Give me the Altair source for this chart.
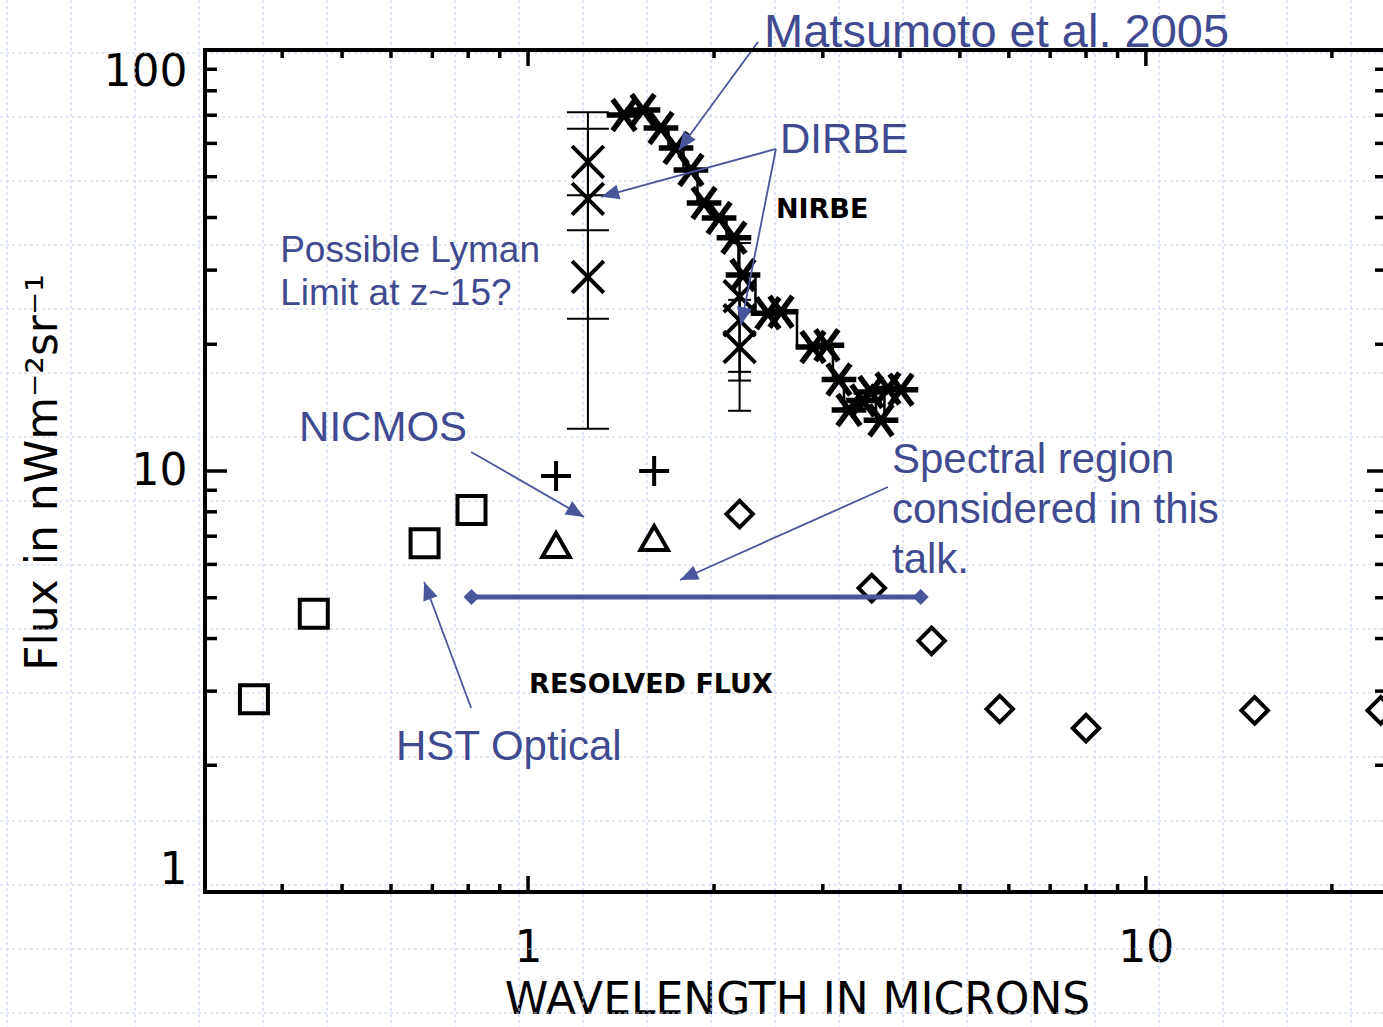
import math
import altair as alt
import pandas as pd

# ---------------- data ----------------
hst_x = [0.36, 0.45, 0.68, 0.81]
hst_y = [2.87, 4.58, 6.74, 8.08]

nic_plus_x = [1.11, 1.60]
nic_plus_y = [9.73, 10.0]
nic_tri_x = [1.11, 1.60]
nic_tri_y = [6.67, 6.93]

res_x = [2.2, 3.6, 4.5, 5.8, 8.0, 15.0, 24.0]
res_y = [7.9, 5.27, 3.95, 2.72, 2.45, 2.70, 2.70]

mat_x = [1.43, 1.535, 1.641, 1.736, 1.835, 1.927, 2.038, 2.154, 2.228, 2.445,
         2.567, 2.892, 3.046, 3.186, 3.307, 3.484, 3.589, 3.726, 3.824, 4.014]
mat_y = [70.1, 72.0, 65.3, 58.5, 51.9, 43.3, 39.9, 35.8, 29.2, 23.7,
         23.9, 19.7, 19.9, 16.5, 13.96, 14.7, 15.4, 13.2, 15.7, 15.6]

dirbe_x = [1.25, 1.25, 1.25, 2.2, 2.2, 2.2]
dirbe_y = [54.2, 44.3, 28.9, 26.0, 22.8, 19.7]
dirbe_lo = [37.3, 23.0, 12.6, 17.2, 16.4, 13.9]
dirbe_hi = [71.1, 65.0, 45.2, 34.8, 29.2, 25.5]
dirbe_cap = [42, 42, 42, 23, 23, 23]

band_x = [0.81, 4.32]
band_y = [5.02, 5.02]

x_major = [1, 10]
x_minor = [0.4, 0.5, 0.6, 0.7, 0.8, 0.9, 2, 3, 4, 5, 6, 7, 8, 9, 20]
y_major = [1, 10, 100]
y_minor = [2, 3, 4, 5, 6, 7, 8, 9, 20, 30, 40, 50, 60, 70, 80, 90]

# annotation arrows: tail -> tip (data coordinates)
arr_x = [2.356, 2.519, 2.519, 0.809, 3.824, 0.809]
arr_y = [104.5, 58.2, 58.2, 11.1, 9.16, 2.735]
arr_x2 = [1.755, 1.313, 2.211, 1.232, 1.762, 0.679]
arr_y2 = [57.9, 44.8, 22.2, 7.78, 5.51, 5.45]

# texts (left aligned, alphabetic baseline, data coordinates)
blue_txt = ["DIRBE", "NICMOS", "Spectral region", "considered in this", "talk.", "HST Optical"]
blue_tx = [2.557, 0.426, 3.882, 3.882, 3.882, 0.6114]
blue_ty = [56.9, 11.8, 9.89, 7.52, 5.72, 2.058]
lyman_txt = ["Possible Lyman", "Limit at z~15?"]
lyman_tx = [0.397, 0.397]
lyman_ty = [31.4, 24.8]
mat_txt = ["Matsumoto et al. 2005"]
mat_tx = [2.41]
mat_ty = [101.6]
blk_txt = ["NIRBE", "RESOLVED FLUX"]
blk_tx = [2.519, 1.004]
blk_ty = [39.9, 2.97]

# ---------------- layout / style ----------------
W, H = 1178, 842
XD = [0.3, 24.2]
YD = [1, 100]
BLUE = "#3F4A91"
LINEBLUE = "#4A569C"
GRID = "#C8D3F3"

xs = alt.Scale(type="log", domain=XD, nice=False)
ys = alt.Scale(type="log", domain=YD, nice=False)
xaxis = alt.Axis(values=x_major, format=".0f", title="WAVELENGTH IN MICRONS",
                 labelPadding=34, titleX=592, titleY=121, titleBaseline="alphabetic",
                 titleAlign="center")
yaxis = alt.Axis(values=y_major, format=".0f", title="Flux in nWm⁻²sr⁻¹",
                 labelPadding=18, labelFlush=True, titleAngle=270, titleX=-149,
                 titleY=422, titleAlign="center", titleBaseline="alphabetic")


def X(f):
    return alt.X(f, type="quantitative", scale=xs, axis=xaxis)


def Y(f):
    return alt.Y(f, type="quantitative", scale=ys, axis=yaxis)


ASTER = "M-1,0L1,0M-0.66,-0.9L0.66,0.9M-0.66,0.9L0.66,-0.9"
XSHAPE = "M-1,-1L1,1M-1,1L1,-1"
PLUS = "M-1,0L1,0M0,-1L0,1"
HBAR = "M-1,0L1,0"
HEAD = "M0,0L-0.42,1L0.42,1Z"

# ---------------- background dashed grid (slide texture) ----------------
gx = [7 + 64 * k - 205 for k in range(22)]
gy = [53 + 64 * k - 50 for k in range(16)]
vgrid = alt.Chart(pd.DataFrame({"gx": gx})).mark_rule(
    color=GRID, strokeWidth=1.2, strokeDash=[3, 3]).encode(
    x=alt.X("gx:Q", scale=None, axis=None), y=alt.value(-50), y2=alt.value(977))
hgrid = alt.Chart(pd.DataFrame({"gy": gy})).mark_rule(
    color=GRID, strokeWidth=1.2, strokeDash=[3, 3]).encode(
    y=alt.Y("gy:Q", scale=None, axis=None), x=alt.value(-205), x2=alt.value(1178))
grid = alt.layer(vgrid, hgrid)

# ---------------- main layers ----------------
layers = []

# error bars
dirbe = pd.DataFrame({"x": dirbe_x, "y": dirbe_y, "lo": dirbe_lo, "hi": dirbe_hi,
                      "cap": [c * c for c in dirbe_cap]})
layers.append(alt.Chart(dirbe).mark_rule(color="black", strokeWidth=2).encode(
    x=X("x"), y=Y("lo"), y2="hi"))
for f in ["lo", "hi"]:
    layers.append(alt.Chart(dirbe).mark_point(shape=HBAR, filled=False, color="black",
                                              strokeWidth=2, opacity=1).encode(
        x=X("x"), y=Y(f), size=alt.Size("cap:Q", scale=None)))

# Matsumoto stepped line + asterisks
mat = pd.DataFrame({"x": mat_x, "y": mat_y})
layers.append(alt.Chart(mat).mark_line(interpolate="step", color="black", strokeWidth=2.5).encode(
    x=X("x"), y=Y("y"), order="x:Q"))
layers.append(alt.Chart(mat).mark_point(shape=ASTER, filled=False, color="black",
                                        strokeWidth=5.5, size=1200, opacity=1).encode(
    x=X("x"), y=Y("y")))

# DIRBE crosses
layers.append(alt.Chart(dirbe).mark_point(shape=XSHAPE, filled=False, color="black",
                                          strokeWidth=4, size=1000, opacity=1).encode(
    x=X("x"), y=Y("y")))

# HST squares
layers.append(alt.Chart(pd.DataFrame({"x": hst_x, "y": hst_y})).mark_point(
    shape="square", filled=False, color="black", strokeWidth=4, size=784, opacity=1).encode(
    x=X("x"), y=Y("y")))
# NICMOS
layers.append(alt.Chart(pd.DataFrame({"x": nic_plus_x, "y": nic_plus_y})).mark_point(
    shape=PLUS, filled=False, color="black", strokeWidth=4, size=900, opacity=1).encode(
    x=X("x"), y=Y("y")))
layers.append(alt.Chart(pd.DataFrame({"x": nic_tri_x, "y": nic_tri_y})).mark_point(
    shape="triangle-up", filled=False, color="black", strokeWidth=4, size=760, opacity=1).encode(
    x=X("x"), y=Y("y")))
# resolved flux diamonds
layers.append(alt.Chart(pd.DataFrame({"x": res_x, "y": res_y})).mark_point(
    shape="diamond", filled=False, color="black", strokeWidth=4, size=700, opacity=1).encode(
    x=X("x"), y=Y("y")))

# spectral band line
band = pd.DataFrame({"x": band_x, "y": band_y})
layers.append(alt.Chart(band).mark_line(color=LINEBLUE, strokeWidth=5).encode(
    x=X("x"), y=Y("y")))
layers.append(alt.Chart(band).mark_point(shape="diamond", filled=True, color=LINEBLUE,
                                         size=256, opacity=1).encode(x=X("x"), y=Y("y")))


# arrows
def to_px(x, y):
    px = W * (math.log10(x) - math.log10(XD[0])) / (math.log10(XD[1]) - math.log10(XD[0]))
    py = H * (1 - (math.log10(y) - math.log10(YD[0])) / (math.log10(YD[1]) - math.log10(YD[0])))
    return px, py


angles = []
for a, b, c, d in zip(arr_x, arr_y, arr_x2, arr_y2):
    p0 = to_px(a, b)
    p1 = to_px(c, d)
    ang = math.degrees(math.atan2(p1[0] - p0[0], -(p1[1] - p0[1]))) % 360
    angles.append(ang)
arrows = pd.DataFrame({"x": arr_x, "y": arr_y, "x2": arr_x2, "y2": arr_y2, "ang": angles})
layers.append(alt.Chart(arrows).mark_rule(color=LINEBLUE, strokeWidth=1.8).encode(
    x=X("x"), y=Y("y"), x2="x2", y2="y2"))
layers.append(alt.Chart(arrows).mark_point(shape=HEAD, filled=True, color=LINEBLUE,
                                           size=1300, opacity=1).encode(
    x=X("x2"), y=Y("y2"), angle=alt.Angle("ang:Q", scale=None)))


# texts
def text_layer(txt, tx, ty, **kw):
    df = pd.DataFrame({"t": txt, "x": tx, "y": ty})
    return alt.Chart(df).mark_text(align="left", baseline="alphabetic", **kw).encode(
        x=X("x"), y=Y("y"), text="t:N")


layers.append(text_layer(blue_txt, blue_tx, blue_ty, font="Liberation Sans",
                         fontSize=42, color=BLUE))
layers.append(text_layer(lyman_txt, lyman_tx, lyman_ty, font="Liberation Sans",
                         fontSize=37, color=BLUE))
layers.append(text_layer(mat_txt, mat_tx, mat_ty, font="Liberation Sans",
                         fontSize=47, color=BLUE))
layers.append(text_layer(blk_txt, blk_tx, blk_ty, font="DejaVu Sans",
                         fontSize=27, fontWeight="bold", color="black"))

# inward ticks on all four sides
TW = 3.5


def ticks(vals, side, length):
    df = pd.DataFrame({"v": vals})
    ch = alt.Chart(df).mark_rule(color="black", strokeWidth=TW)
    if side == "left":
        return ch.encode(y=Y("v"), x=alt.value(0), x2=alt.value(length))
    if side == "right":
        return ch.encode(y=Y("v"), x=alt.value(W), x2=alt.value(W - length))
    if side == "bottom":
        return ch.encode(x=X("v"), y=alt.value(H), y2=alt.value(H - length))
    return ch.encode(x=X("v"), y=alt.value(0), y2=alt.value(length))


layers += [ticks(y_major, "left", 22), ticks(y_minor, "left", 12),
           ticks(y_major, "right", 16), ticks(y_minor, "right", 8),
           ticks(x_major, "bottom", 16), ticks(x_minor, "bottom", 8),
           ticks(x_major, "top", 16), ticks(x_minor, "top", 8)]

# frame (top, bottom, left)
one = pd.DataFrame({"a": [0]})
layers.append(alt.Chart(one).mark_rule(color="black", strokeWidth=4).encode(
    x=alt.value(0), x2=alt.value(W), y=alt.value(0)))
layers.append(alt.Chart(one).mark_rule(color="black", strokeWidth=4).encode(
    x=alt.value(0), x2=alt.value(W), y=alt.value(H)))
layers.append(alt.Chart(one).mark_rule(color="black", strokeWidth=4).encode(
    x=alt.value(0), y=alt.value(-2), y2=alt.value(H + 2)))

main = alt.layer(*layers)

chart = alt.layer(grid, main).resolve_scale(x="independent", y="independent").properties(
    width=W, height=H,
    autosize=alt.AutoSizeParams(type="none"),
    padding={"left": 205, "top": 50, "right": 0, "bottom": 135},
    background="white",
).configure_view(stroke=None).configure_axis(
    domain=False, ticks=False, grid=False,
    labelFont="DejaVu Sans", labelFontSize=44, labelColor="black",
    titleFont="DejaVu Sans", titleFontSize=44, titleFontWeight="normal", titleColor="black",
)

chart.save("out.html", embed_options={"renderer": "svg", "actions": False})
